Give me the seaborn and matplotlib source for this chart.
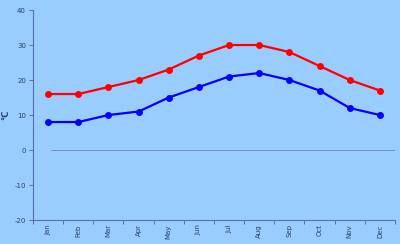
import matplotlib
matplotlib.use("Agg")
import matplotlib.pyplot as plt
import seaborn as sns
import pandas as pd
import numpy as np

months = ["Jan", "Feb", "Mar", "Apr", "May", "Jun", "Jul", "Aug", "Sep", "Oct", "Nov", "Dec"]
high = [16, 16, 18, 20, 23, 27, 30, 30, 28, 24, 20, 17]
low = [8, 8, 10, 11, 15, 18, 21, 22, 20, 17, 12, 10]
yticks = [-20, -10, 0, 10, 20, 30, 40]

bg = "#99CCFF"
axis_col = "#5A6EA8"
text_col = "#2B3A80"

sns.set_theme(style="white")
plt.rcParams['font.family'] = ['DejaVu Sans']

fig = plt.figure(figsize=(4, 2.44), dpi=100, facecolor=bg)
ax = fig.add_axes([0.0825, 0.098, 0.905, 0.861])
ax.set_facecolor(bg)

x = np.arange(len(months))
df = pd.DataFrame({"x": np.concatenate([x, x]),
                   "v": high + low,
                   "s": ["high"] * 12 + ["low"] * 12})

ax.axhline(0, xmin=(0 + 0.6) / 12, xmax=1, color="#6F86B0", lw=0.6, zorder=1)

sns.lineplot(data=df, x="x", y="v", hue="s", palette={"high": "#FF0000", "low": "#0000FF"},
             marker="o", markersize=5, markeredgewidth=0, linewidth=1.6, legend=False, ax=ax,
             zorder=3)

ax.set_xlim(-0.5, 11.5)
ax.set_ylim(-20, 40)
ax.set_yticks(yticks)
ax.set_yticklabels([str(t) for t in yticks], fontsize=5, color=text_col)
ax.set_xticks(x)
ax.set_xticklabels(months, rotation=90, fontsize=5, color=text_col)
ax.set_xticks(np.arange(-0.5, 12, 1), minor=True)
ax.tick_params(axis="x", which="major", length=0, pad=3)
ax.tick_params(axis="x", which="minor", length=3, color=axis_col, width=0.7, direction="out", bottom=True)
ax.tick_params(axis="y", which="major", length=3, color=axis_col, width=0.7, direction="out", left=True, pad=2)

for side in ["top", "right"]:
    ax.spines[side].set_visible(False)
for side in ["left", "bottom"]:
    ax.spines[side].set_color(axis_col)
    ax.spines[side].set_linewidth(0.8)

ax.set_xlabel("")
ax.set_ylabel("°C", fontsize=6, fontweight="bold", color=text_col)
ax.yaxis.set_label_coords(-0.063, 0.5)

fig.savefig("out.png", dpi=100, facecolor=bg)
